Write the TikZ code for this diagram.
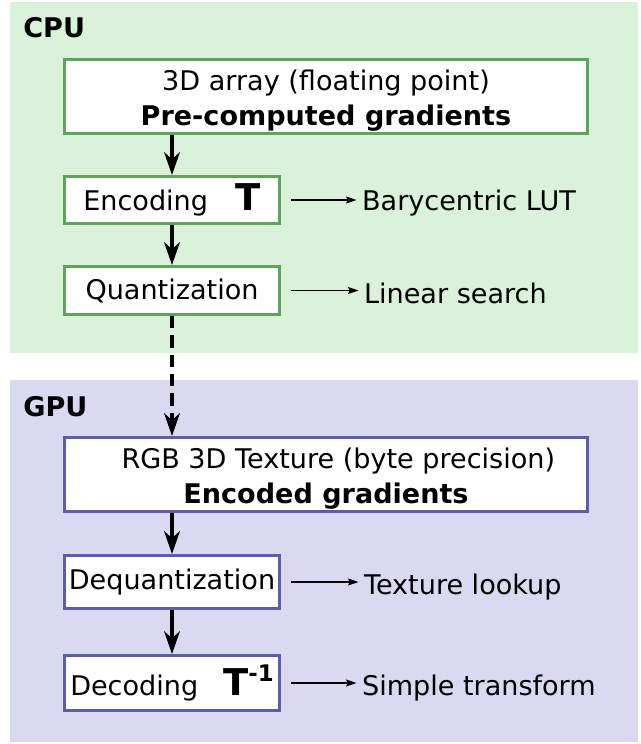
\documentclass[tikz,border=0pt]{standalone}
\usepackage{fontspec}
\setmainfont{DejaVu Sans}
\usetikzlibrary{arrows.meta}
\usetikzlibrary{positioning}

\definecolor{cpubg}{HTML}{DAF1DA}
\definecolor{cpuline}{HTML}{5DA55D}
\definecolor{gpubg}{HTML}{D9D9F1}
\definecolor{gpuline}{HTML}{5E5EA6}

\newcommand{\bigT}{{\fontsize{21}{22}\selectfont\bfseries T}}
\newcommand{\toppad}[1]{\raisebox{0pt}[\dimexpr\height+5pt\relax][\depth]{#1}}

\begin{document}
\begin{tikzpicture}[x=0.02cm,y=-0.02cm,
    every node/.style={font=\fontsize{15.4}{21}\selectfont},
    stagebox/.style={draw,fill=white,line width=1.7pt,inner sep=0pt,align=center},
    cpubox/.style={stagebox,draw=cpuline},
    gpubox/.style={stagebox,draw=gpuline},
    widebox/.style={minimum width=10.46cm,minimum height=1.48cm},
    smallbox/.style={minimum width=4.32cm},
    sidelabel/.style={anchor=west,inner sep=1pt},
    flow/.style={line width=1.9pt,-{Stealth[length=13pt,width=9pt,inset=4pt]}},
    sidearrow/.style={line width=0.7pt,-{Stealth[length=6pt,width=4pt,inset=1pt]},shorten <=5.5pt,shorten >=2pt}]
    \useasboundingbox (0,0) rectangle (640,744);
    % Backgrounds
    \fill[cpubg] (10,2) rectangle (638,353);
    \fill[gpubg] (10,380) rectangle (638,742);
    \node[anchor=west,inner sep=0pt,font=\fontsize{15.4}{17}\selectfont\bfseries] (cpu) at (23,28) {CPU};
    \node[anchor=west,inner sep=0pt,font=\fontsize{15.4}{17}\selectfont\bfseries] (gpu) at (23,407) {GPU};

    % CPU side
    \node[cpubox,widebox] (grad) at (326,96.5) {\toppad{3D array (floating point)}\\[-1pt] \textbf{Pre-computed gradients}};
    \node[cpubox,smallbox,minimum height=0.94cm] (enc) at (172,200) {Encoding\hspace{0.55cm}\bigT};
    \node[cpubox,smallbox,minimum height=0.96cm] (quant) at (172,290.5) {Quantization};
    \node[sidelabel] (lut) at (360,203) {Barycentric LUT};
    \node[sidelabel] (search) at (362,293) {Linear search};

    % GPU side
    \node[gpubox,widebox] (tex) at (326,474.5) {\toppad{\hspace{14pt}RGB 3D Texture (byte precision)}\\[-1pt] \textbf{Encoded gradients}};
    \node[gpubox,smallbox,minimum height=1.06cm] (deq) at (172,582) {Dequantization};
    \node[gpubox,smallbox,minimum height=1.10cm] (dec) at (172,683) {Decoding\hspace{0.5cm}\bigT\raisebox{0.9ex}{\fontsize{13}{13}\selectfont\bfseries -1}};
    \node[sidelabel] (lookup) at (362,587) {Texture lookup};
    \node[sidelabel] (simple) at (360,688) {Simple transform};

    % Connectors
    \draw[flow] (grad.south -| enc) -- (enc);
    \draw[flow] (enc) -- (quant);
    \draw[flow,dash pattern=on 7pt off 4pt] (quant) -- (tex.north -| quant);
    \draw[flow] (tex.south -| deq) -- (deq);
    \draw[flow] (deq) -- (dec);

    \draw[sidearrow] (enc.east) -- (enc -| lut.west);
    \draw[sidearrow] (quant.east) -- (quant -| search.west);
    \draw[sidearrow] (deq.east) -- (deq -| lookup.west);
    \draw[sidearrow] (dec.east) -- (dec -| simple.west);
\end{tikzpicture}
\end{document}
